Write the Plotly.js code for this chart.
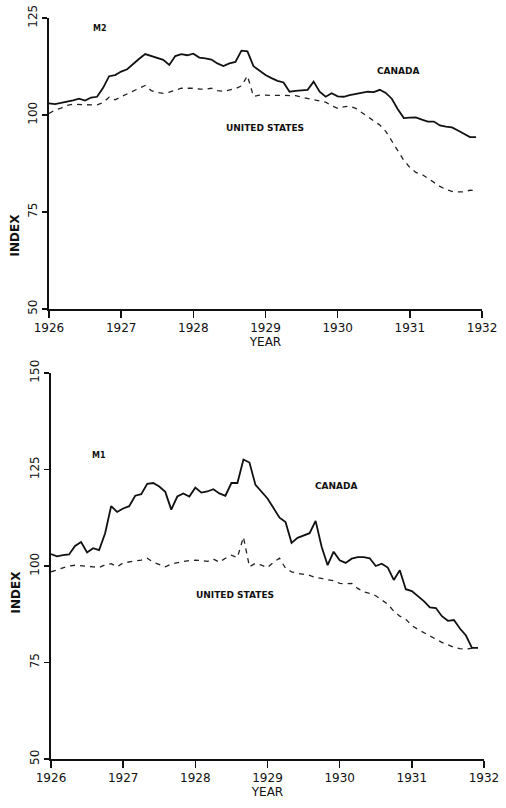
<!DOCTYPE html>
<html>
<head>
<meta charset="utf-8">
<script src="https://cdn.plot.ly/plotly-3.0.1.min.js"></script>
<style>html,body{margin:0;padding:0;background:#fff;}#chart{width:506px;height:808px;}</style>
</head>
<body>
<div id="chart"></div>
<script>
// Monthly observations, January 1926 to December 1931
const years = [1926, 1927, 1928, 1929, 1930, 1931];
const monthsPerYear = 12;

// M2 index
const canadaM2 = [
  103.0, 102.8, 103.1, 103.4, 103.8, 104.2, 103.7, 104.5, 104.7, 107.0, 110.0, 110.3,
  111.2, 111.8, 113.2, 114.5, 115.7, 115.2, 114.9, 114.2, 112.9, 115.2, 115.7, 115.4,
  115.8, 114.8, 114.6, 114.3, 113.3, 112.6, 113.3, 113.7, 116.6, 116.4, 112.6, 111.4,
  110.3, 109.5, 108.8, 108.4, 106.0, 106.2, 106.3, 106.5, 108.6, 106.0, 104.7, 105.6,
  104.8, 104.7, 105.1, 105.4, 105.6, 106.0, 105.9, 106.5, 105.7, 104.2, 101.5, 99.2,
  99.3, 99.4, 98.8, 98.3, 98.3, 97.3, 97.0, 96.8, 96.0, 95.2, 94.3, 94.3
];
const usM2 = [
  100.4, 101.3, 101.8, 102.5, 102.8, 102.7, 102.6, 102.6, 102.6, 103.2, 104.6, 103.9,
  104.7, 105.5, 106.3, 106.9, 107.6, 106.3, 105.8, 105.6, 105.9, 106.4, 106.9, 106.9,
  106.9, 106.7, 106.6, 106.9, 106.3, 106.1, 106.5, 106.8, 107.5, 110.1, 104.8, 105.1,
  105.1, 105.1, 105.1, 105.1, 105.1, 105.0, 104.6, 104.3, 104.0, 103.6, 103.3, 102.4,
  101.7, 102.1, 102.3, 101.7, 100.7, 99.6, 98.5, 97.4, 95.8, 93.3, 90.9, 88.3,
  86.5, 85.2, 84.7, 83.6, 82.6, 81.6, 80.8, 80.3, 80.2, 80.2, 80.6, 80.5
];

// M1 index
const canadaM1 = [
  103.1, 102.5, 102.8, 103.0, 105.2, 106.2, 103.5, 104.6, 104.1, 108.5, 115.5, 114.0,
  114.9, 115.5, 118.2, 118.6, 121.3, 121.5, 120.6, 119.2, 114.6, 118.0, 118.8, 118.0,
  120.3, 119.0, 119.3, 119.9, 118.8, 118.2, 121.5, 121.5, 127.6, 126.8, 121.0, 119.1,
  117.5, 115.0, 112.5, 111.4, 106.0, 107.3, 107.8, 108.5, 111.7, 105.0, 100.2, 103.7,
  101.5, 100.8, 101.9, 102.3, 102.3, 102.0, 100.0, 100.6, 99.6, 96.4, 98.9, 94.0,
  93.5, 92.3, 90.9, 89.3, 89.1, 87.0, 85.8, 86.0, 83.8, 82.0, 78.8, 78.8
];
const usM1 = [
  98.5, 99.0, 99.4, 100.0, 100.2, 100.1, 100.0, 99.8, 99.6, 100.3, 100.6, 99.8,
  100.8, 101.1, 101.3, 101.5, 102.0, 101.0, 100.4, 99.8, 100.5, 100.9, 101.2, 101.4,
  101.5, 101.4, 101.2, 101.8, 101.0, 102.0, 102.8, 102.2, 107.5, 99.8, 100.7, 100.2,
  99.6, 101.0, 102.0, 99.4, 98.5, 98.1, 97.8, 97.6, 97.0, 96.8, 96.4, 96.2,
  95.5, 95.4, 95.5, 94.2, 93.3, 92.9, 92.3, 91.2, 90.1, 88.3, 87.0, 86.2,
  84.6, 83.6, 82.7, 81.8, 81.1, 80.2, 79.6, 78.9, 78.6, 78.5, 78.7, 78.8
];

const xTicks = [1926, 1927, 1928, 1929, 1930, 1931, 1932];
const yTicksM2 = [50, 75, 100, 125];
const yTicksM1 = [50, 75, 100, 125, 150];

// time positions (fractional years) for each monthly observation
const t = [];
years.forEach(y => { for (let k = 0; k < monthsPerYear; k++) t.push(y + k / monthsPerYear); });

const solid = {color: '#111', width: 1.8};
const dashed = {color: '#222', width: 1.3, dash: '5px,5px'};

const traces = [
  {x: t, y: canadaM2, type: 'scatter', mode: 'lines', line: solid, xaxis: 'x', yaxis: 'y', name: 'CANADA'},
  {x: t, y: usM2, type: 'scatter', mode: 'lines', line: dashed, xaxis: 'x', yaxis: 'y', name: 'UNITED STATES'},
  {x: t, y: canadaM1, type: 'scatter', mode: 'lines', line: solid, xaxis: 'x2', yaxis: 'y2', name: 'CANADA'},
  {x: t, y: usM1, type: 'scatter', mode: 'lines', line: dashed, xaxis: 'x2', yaxis: 'y2', name: 'UNITED STATES'}
];

const tickFont = {family: 'DejaVu Sans', size: 12, color: '#111'};
function xAx(domain, anchor) {
  return {
    domain: domain, anchor: anchor, range: [1926, 1932], tickvals: xTicks, ticktext: xTicks.map(String),
    showline: true, linecolor: '#111', linewidth: 2, ticks: 'outside', ticklen: 7, tickwidth: 1.5,
    tickcolor: '#111', showgrid: false, zeroline: false, tickfont: tickFont,
    title: {text: 'YEAR', font: {family: 'DejaVu Sans', size: 12, color: '#111'}, standoff: 2}
  };
}
function yAx(domain, anchor, range, ticks) {
  return {
    domain: domain, anchor: anchor, range: range, tickvals: ticks, ticktext: ticks.map(String),
    showline: true, linecolor: '#111', linewidth: 2, ticks: 'outside', ticklen: 5, tickwidth: 1.5,
    tickcolor: '#111', showgrid: false, zeroline: false, tickfont: tickFont, tickangle: -90
  };
}

const lab = (text, xref, yref, x, y, size) => ({
  text: text, xref: xref, yref: yref, x: x, y: y, showarrow: false,
  font: {family: 'DejaVu Sans', size: size || 9, color: '#111', weight: 'bold'}
});

const layout = {
  width: 506, height: 808,
  margin: {l: 0, r: 0, t: 0, b: 0},
  paper_bgcolor: '#fff', plot_bgcolor: '#fff',
  showlegend: false,
  xaxis: xAx([0.0968, 0.9526], 'y'),
  yaxis: yAx([0.6176, 0.9777], 'x', [50, 125], yTicksM2),
  xaxis2: xAx([0.1008, 0.9565], 'y2'),
  yaxis2: yAx([0.0606, 0.5384], 'x2', [50, 150], yTicksM1),
  annotations: [
    lab('M2', 'x', 'y', 1926.71, 122.2, 8),
    lab('CANADA', 'x', 'y', 1930.84, 111.4, 9),
    lab('UNITED STATES', 'x', 'y', 1928.99, 96.7, 9),
    lab('M1', 'x2', 'y2', 1926.66, 128.7, 8),
    lab('CANADA', 'x2', 'y2', 1929.96, 120.7, 9),
    lab('UNITED STATES', 'x2', 'y2', 1928.55, 92.6, 9),
    {text: 'INDEX', xref: 'paper', yref: 'paper', x: 23 / 506, y: 1 - 211 / 808, xanchor: 'right', showarrow: false, textangle: -90,
     font: {family: 'DejaVu Sans', size: 12, color: '#111', weight: 'bold'}},
    {text: 'INDEX', xref: 'paper', yref: 'paper', x: 24 / 506, y: 1 - 615 / 808, xanchor: 'right', showarrow: false, textangle: -90,
     font: {family: 'DejaVu Sans', size: 12, color: '#111', weight: 'bold'}}
  ]
};

Plotly.newPlot('chart', traces, layout, {staticPlot: true, displayModeBar: false});
</script>
</body>
</html>
